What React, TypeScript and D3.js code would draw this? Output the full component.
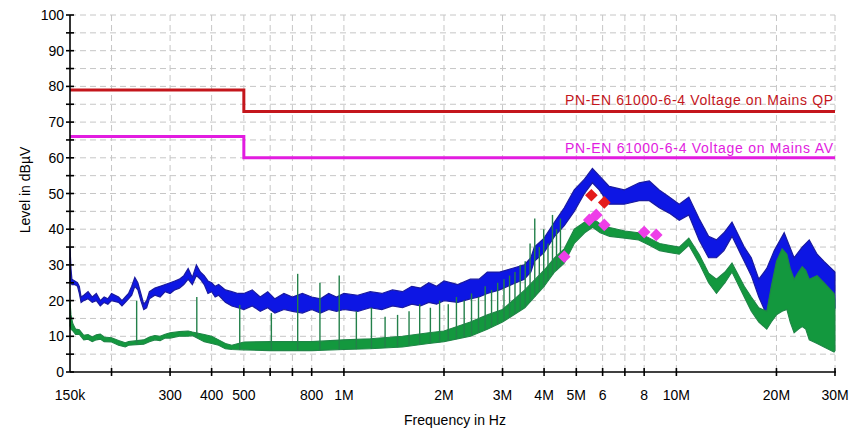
import * as d3 from "d3";
import { useEffect, useRef } from "react";

// frequencies in MHz, levels in dBµV
const blueFreq = [
  0.15, 0.151, 0.152, 0.155, 0.158, 0.16, 0.162, 0.165, 0.17, 0.175, 0.18, 0.185, 0.19, 0.195,
  0.2, 0.21, 0.215, 0.22, 0.225, 0.23, 0.235, 0.24, 0.245, 0.25, 0.255, 0.26, 0.27, 0.28, 0.29,
  0.3, 0.31, 0.32, 0.33, 0.34, 0.35, 0.36, 0.37, 0.38, 0.39, 0.4, 0.41, 0.42, 0.44, 0.46, 0.48,
  0.5, 0.53, 0.56, 0.59, 0.62, 0.66, 0.7, 0.75, 0.8, 0.85, 0.9, 0.95, 1.0, 1.1, 1.2, 1.3, 1.4,
  1.5, 1.6, 1.7, 1.8, 1.9, 2.0, 2.2, 2.4, 2.55, 2.7, 2.94, 3.2, 3.49,
  3.65, 3.74, 4.0, 4.3, 4.6, 4.93, 5.29, 5.59, 5.86, 6.28, 6.97, 7.73, 8.29, 8.88, 9.52, 10.2,
  10.9, 11.7, 12.5, 13.2, 13.9, 14.7, 16.0, 16.8, 17.7, 18.7, 19.7, 21.1, 22.6, 23.9, 25.1,
  26.5, 27.8, 30.0,
];
const blueLo = [
  25, 25, 24.5, 24.5, 24, 22, 19.5, 20, 20.5, 19.5, 20, 18.5, 19.5, 19,
  20, 19.5, 18.5, 19.5, 20.5, 21.5, 24, 23, 20, 17.5, 18, 20.5, 21.5, 21, 22.5,
  22, 23, 23.5, 24.5, 26, 24.5, 27, 26, 24.5, 22, 22.5, 21, 21.5, 19.5, 18.5, 18,
  17.5, 18.5, 17, 18, 16.5, 17.5, 17, 16.5, 17.5, 16.5, 17.5, 17, 17.5, 17, 18, 17.5, 18.5,
  18, 19, 18.5, 19.5, 19, 20, 19.5, 20.5, 21, 22, 23, 24.5, 26,
  28, 31, 33.5, 38, 41, 45, 50, 53, 51, 47, 47, 48, 48, 46, 44.5, 42.5,
  44, 37, 32, 32, 34, 38, 31, 27, 21, 16, 22, 28, 22, 24, 22,
  22, 20, 18,
];
const blueHi = [
  35, 29, 26, 25.5, 25, 24, 21, 21.5, 22.5, 21, 22, 20, 21, 20.5,
  22, 21, 20, 21, 22, 24, 26.5, 25, 22, 19, 20, 22.5, 23.5, 24, 24.5,
  25, 25.5, 26, 27, 29, 26.5, 30, 28, 27, 25.5, 25, 24, 24.5, 23, 22.5, 22,
  22, 23, 21, 22.5, 20.5, 22, 21, 22, 21, 20.5, 22, 21, 22, 21.5, 22.5, 22, 23,
  22.5, 24, 23.5, 25, 24, 25.5, 24.5, 26, 26, 28, 28, 29, 30,
  32, 35, 37.5, 42, 46, 51, 54, 57, 55, 52, 51, 53, 53.5, 51, 49, 47,
  49, 43, 38, 37, 39, 42, 35, 32, 26, 29, 34, 39, 32, 35, 37,
  33, 31, 28,
];

const greenFreq = [
  0.15, 0.151, 0.153, 0.156, 0.16, 0.165, 0.17, 0.175, 0.18, 0.185, 0.19, 0.2, 0.21, 0.22,
  0.225, 0.25, 0.26, 0.27, 0.28, 0.29, 0.3, 0.32, 0.34, 0.35, 0.38, 0.4, 0.42, 0.44, 0.46,
  0.5, 0.6, 0.8, 1.0, 1.2, 1.5, 1.8, 2.0, 2.4, 2.7, 3.0, 3.5, 4.0, 4.3, 4.6, 4.93, 5.3, 5.6,
  5.9, 6.3, 7.0, 7.7, 8.3, 8.9, 9.5, 10.2, 10.9, 11.7, 12.5, 13.2, 14.0, 14.7, 16.0, 16.8,
  17.7, 18.7, 19.3, 20.0, 20.8, 21.5, 22.0, 22.6, 23.3, 23.9, 24.5, 25.1, 26.5, 27.8, 29.8, 30.0,
];
const greenLo = [
  13, 12, 11.5, 10.5, 10.5, 9, 9.2, 8.5, 9, 9.2, 8.5, 8.4, 7.5, 7,
  7.5, 7.8, 8.5, 9, 8.8, 9.5, 9.5, 10, 10, 10.2, 8.5, 8, 7.5, 6.5, 6.3,
  6.2, 6, 6, 6.3, 6.5, 7, 8, 8.5, 10, 12, 14, 18, 24, 28, 30.5, 36, 39, 40.5,
  39, 38, 37.5, 37, 35.5, 34, 33.5, 33, 35.5, 30.5, 25, 22, 25, 28, 21, 17,
  14, 12, 14, 16, 17, 17.5, 14, 11, 12, 12.7, 12, 9, 8, 7, 5.6, 6,
];
const greenHi = [
  20, 16, 13.5, 12, 11.8, 10.3, 10.5, 9.8, 10.4, 10.6, 9.8, 9.6, 8.8, 8.2,
  8.5, 9, 9.8, 10.2, 10, 10.6, 11, 11.3, 11.5, 11.2, 10.5, 10, 9, 8, 7.5,
  8.4, 8.5, 8.5, 9, 9.3, 10, 11, 11.5, 14, 16, 17.5, 23, 28.5, 32, 34.5, 40, 42, 43,
  41.5, 40.5, 39.5, 39, 37.5, 36, 35.5, 35, 37.5, 33, 27.7, 26, 28, 30.5, 24, 21,
  18, 17, 24, 31, 34.5, 33, 29, 26, 28, 29.5, 28.5, 26, 27, 25, 22, 20,
];

// harmonic spikes of the average trace
const spikeFreq = [
  0.238, 0.361, 0.486, 0.605, 0.726, 0.847, 0.968, 1.09, 1.21, 1.33, 1.45, 1.57, 1.69, 1.82,
  1.94, 2.06, 2.18, 2.3, 2.42, 2.54, 2.66, 2.78, 2.9, 3.03, 3.15, 3.27, 3.39, 3.51, 3.63,
  3.75, 3.87, 3.99, 4.11, 4.24, 4.36, 4.48,
];
const spikeTop = [
  20, 21, 18.8, 16.5, 27.5, 25, 27, 17, 18, 15.5, 16, 17, 19, 18,
  20, 19, 21, 20, 22, 21, 24, 23, 25, 26, 27, 28, 30, 31, 36,
  43, 35, 40, 36, 44, 40, 43,
];

const limitFreq = [0.15, 0.5, 0.5, 30];
const qpLimit = [79, 79, 73, 73];
const avLimit = [66, 66, 60, 60];

const qpMarkFreq = [5.55, 6.07];
const qpMarkLevel = [49.5, 47.5];
const avMarkFreq = [4.6, 5.47, 5.74, 6.07, 8.0, 8.7];
const avMarkLevel = [32.3, 42.6, 44, 41.2, 39.2, 38.4];

const tickFreq = [0.2, 0.3, 0.4, 0.5, 0.6, 0.7, 0.8, 1, 2, 3, 4, 5, 6, 7, 8, 10, 20, 30];
const labelFreq = [0.15, 0.3, 0.4, 0.5, 0.8, 1, 2, 3, 4, 5, 6, 8, 10, 20, 30];
const labelText = ["150k", "300", "400", "500", "800", "1M", "2M", "3M", "4M", "5M", "6", "8", "10M", "20M", "30M"];
const yLabels = [0, 10, 20, 30, 40, 50, 60, 70, 80, 90, 100];

const FONT = "'Liberation Sans', Arial, sans-serif";

const App = () => {
  const ref = useRef<SVGSVGElement>(null);

  useEffect(() => {
    const svg = d3.select(ref.current);
    svg.selectAll("*").remove();

    const x = d3.scaleLog().domain([0.15, 30]).range([70, 835]);
    const y = d3.scaleLinear().domain([0, 100]).range([372, 15]);

    // dashed grid
    const grid = svg.append("g").attr("stroke", "#c6c6c6").attr("stroke-dasharray", "6,4");
    grid
      .selectAll("line.h")
      .data(d3.range(5, 101, 5))
      .enter()
      .append("line")
      .attr("x1", 70)
      .attr("x2", 835)
      .attr("y1", (d) => y(d))
      .attr("y2", (d) => y(d));
    grid
      .selectAll("line.v")
      .data(tickFreq)
      .enter()
      .append("line")
      .attr("x1", (d) => x(d))
      .attr("x2", (d) => x(d))
      .attr("y1", y(100))
      .attr("y2", y(0));

    // limit lines
    const limLine = (vals: number[]) =>
      d3
        .line<number>()
        .x((_, i) => x(limitFreq[i]))
        .y((d) => y(d))(vals);
    svg.append("path").attr("d", limLine(qpLimit)).attr("fill", "none").attr("stroke", "#c4161c").attr("stroke-width", 3);
    svg.append("path").attr("d", limLine(avLimit)).attr("fill", "none").attr("stroke", "#e21ce0").attr("stroke-width", 3);

    svg
      .append("text")
      .attr("x", 833)
      .attr("y", y(73) - 6)
      .attr("text-anchor", "end")
      .attr("font-family", FONT)
      .attr("font-size", 14)
      .attr("textLength", 268)
      .attr("lengthAdjust", "spacing")
      .attr("fill", "#c4161c")
      .text("PN-EN 61000-6-4 Voltage on Mains QP");
    svg
      .append("text")
      .attr("x", 833)
      .attr("y", y(60) - 5)
      .attr("text-anchor", "end")
      .attr("font-family", FONT)
      .attr("font-size", 14)
      .attr("textLength", 268)
      .attr("lengthAdjust", "spacing")
      .attr("fill", "#e21ce0")
      .text("PN-EN 61000-6-4 Voltage on Mains AV");

    // peak trace (blue band)
    const blueArea = d3
      .area<number>()
      .x((d) => x(d))
      .y0((_, i) => y(blueLo[i]))
      .y1((_, i) => y(blueHi[i]));
    svg
      .append("path")
      .attr("d", blueArea(blueFreq))
      .attr("fill", "#0d16e4")
      .attr("stroke", "#1a1aa0")
      .attr("stroke-width", 1.2);

    // average trace (green band)
    const greenArea = d3
      .area<number>()
      .x((d) => x(d))
      .y0((_, i) => y(greenLo[i]))
      .y1((_, i) => y(greenHi[i]));
    svg
      .append("path")
      .attr("d", greenArea(greenFreq))
      .attr("fill", "#13983e")
      .attr("stroke", "#1f8646")
      .attr("stroke-width", 1.1);

    // spikes start from the bottom of the average band
    const greenBase = (f: number) => {
      const i = d3.bisectRight(greenFreq, f);
      const f0 = greenFreq[i - 1], f1 = greenFreq[i];
      const t = Math.log(f / f0) / Math.log(f1 / f0);
      return greenLo[i - 1] + t * (greenLo[i] - greenLo[i - 1]);
    };
    svg
      .selectAll("line.spike")
      .data(spikeFreq)
      .enter()
      .append("line")
      .attr("x1", (d) => x(d))
      .attr("x2", (d) => x(d))
      .attr("y1", (d) => y(greenBase(d)))
      .attr("y2", (_, i) => y(spikeTop[i]))
      .attr("stroke", "#23804a")
      .attr("stroke-width", 1.4);

    // markers
    const diamond = d3.symbol().type(d3.symbolSquare).size(80)();
    svg
      .selectAll("path.qp")
      .data(qpMarkFreq)
      .enter()
      .append("path")
      .attr("d", diamond)
      .attr("transform", (d, i) => `translate(${x(d)},${y(qpMarkLevel[i])}) rotate(45)`)
      .attr("fill", "#e41a1a");
    svg
      .selectAll("path.av")
      .data(avMarkFreq)
      .enter()
      .append("path")
      .attr("d", diamond)
      .attr("transform", (d, i) => `translate(${x(d)},${y(avMarkLevel[i])}) rotate(45)`)
      .attr("fill", "#ee3ee8");

    // axes
    const ax = svg.append("g").attr("stroke", "#000").attr("stroke-width", 1.6);
    ax.append("line").attr("x1", 70).attr("x2", 70).attr("y1", y(100)).attr("y2", y(0));
    ax.append("line").attr("x1", 70).attr("x2", 836).attr("y1", y(0)).attr("y2", y(0));
    ax.selectAll("line.yt")
      .data(d3.range(0, 101, 5))
      .enter()
      .append("line")
      .attr("x1", 66)
      .attr("x2", 74)
      .attr("y1", (d) => y(d))
      .attr("y2", (d) => y(d));
    ax.selectAll("line.xt")
      .data(tickFreq)
      .enter()
      .append("line")
      .attr("x1", (d) => x(d))
      .attr("x2", (d) => x(d))
      .attr("y1", y(0) - 4)
      .attr("y2", y(0) + 4);

    svg
      .selectAll("text.yl")
      .data(yLabels)
      .enter()
      .append("text")
      .attr("x", 64)
      .attr("y", (d) => y(d) + 5)
      .attr("text-anchor", "end")
      .attr("font-family", FONT)
      .attr("font-size", 14)
      .text((d) => d);
    svg
      .selectAll("text.xl")
      .data(labelFreq)
      .enter()
      .append("text")
      .attr("x", (d) => x(d))
      .attr("y", 400)
      .attr("text-anchor", "middle")
      .attr("font-family", FONT)
      .attr("font-size", 14)
      .text((_, i) => labelText[i]);

    svg
      .append("text")
      .attr("x", 455)
      .attr("y", 425)
      .attr("text-anchor", "middle")
      .attr("font-family", FONT)
      .attr("font-size", 14)
      .text("Frequency in Hz");
    svg
      .append("text")
      .attr("transform", "translate(30,190) rotate(-90)")
      .attr("text-anchor", "middle")
      .attr("font-family", FONT)
      .attr("font-size", 14)
      .text("Level in dBµV");
  }, []);

  return (
    <svg
      ref={ref}
      width={853}
      height={432}
      style={{ position: "absolute", left: 0, top: 0, background: "#fff" }}
    />
  );
};

export default App;
